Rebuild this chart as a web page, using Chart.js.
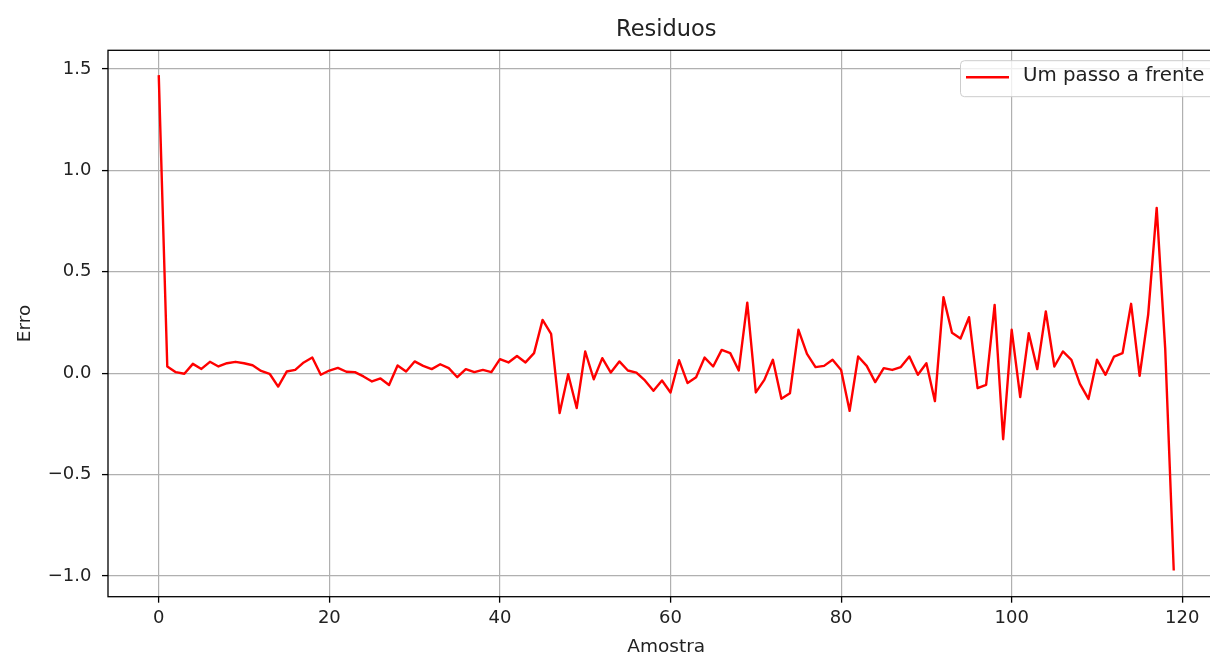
<!DOCTYPE html>
<html>
<head>
<meta charset="utf-8">
<script src="https://cdn.jsdelivr.net/npm/chart.js@4.4.1/dist/chart.umd.min.js"></script>
<style>
  html, body { margin: 0; padding: 0; background: #ffffff; overflow: hidden; width: 1210px; height: 658px; }
  #wrap { position: relative; width: 1240px; height: 658px; }
  canvas { display: block; }
</style>
</head>
<body>
<div id="wrap"><canvas id="chart" width="1240" height="658"></canvas></div>
<script>
// ---------- data ----------
const chartTitle = 'Residuos';
const seriesLabel = 'Um passo a frente';
const xAxisTitle = 'Amostra';
const yAxisTitle = 'Erro';

const residuals = [
  1.47, 0.033, 0.005, -0.003, 0.046, 0.021, 0.056, 0.033, 0.049, 0.056,
  0.049, 0.039, 0.011, -0.003, -0.066, 0.008, 0.016, 0.053, 0.077, -0.008,
  0.013, 0.026, 0.007, 0.005, -0.016, -0.041, -0.026, -0.058, 0.038, 0.008,
  0.058, 0.036, 0.020, 0.044, 0.025, -0.020, 0.020, 0.005, 0.016, 0.005,
  0.069, 0.053, 0.085, 0.053, 0.099, 0.263, 0.194, -0.197, -0.005, -0.172,
  0.107, -0.030, 0.074, 0.003, 0.058, 0.013, 0.003, -0.036, -0.087, -0.036,
  -0.095, 0.064, -0.049, -0.020, 0.077, 0.033, 0.115, 0.099, 0.013, 0.348,
  -0.095, -0.033, 0.066, -0.126, -0.099, 0.214, 0.095, 0.030, 0.036, 0.066,
  0.016, -0.186, 0.082, 0.036, -0.044, 0.025, 0.016, 0.030, 0.082, -0.008,
  0.049, -0.138, 0.375, 0.199, 0.171, 0.276, -0.074, -0.058, 0.337, -0.326,
  0.214, -0.118, 0.197, 0.020, 0.304, 0.033, 0.107, 0.066, -0.053, -0.127,
  0.066, -0.008, 0.082, 0.099, 0.342, -0.013, 0.288, 0.815, 0.12, -0.973
];

const xTicks = [0, 20, 40, 60, 80, 100, 120];
const xTickLabels = ['0', '20', '40', '60', '80', '100', '120'];
const yTicks = [-1.0, -0.5, 0.0, 0.5, 1.0, 1.5];
const yTickLabels = ['\u22121.0', '\u22120.5', '0.0', '0.5', '1.0', '1.5'];
const xLimits = [-5.95, 124.95];
const yLimits = [-1.1025, 1.5925];

// ---------- styling ----------
const FONT = '"DejaVu Sans", "Liberation Sans", sans-serif';
const TEXT = '#222222';
const GRID = '#b0b0b0';
const LINE = '#ff0000';

const framePlugin = {
  id: 'frameAndLegend',
  afterDatasetsDraw(chart) {
    const { ctx, chartArea: a } = chart;
    const ds = chart.data.datasets[0];
    ctx.save();
    // legend box (matplotlib style, upper right inside the axes)
    const boxLeft = a.right - 264;
    const boxTop = a.top + 10.4;
    const boxW = 256, boxH = 36, r = 4;
    ctx.beginPath();
    ctx.moveTo(boxLeft + r, boxTop);
    ctx.lineTo(boxLeft + boxW - r, boxTop);
    ctx.arcTo(boxLeft + boxW, boxTop, boxLeft + boxW, boxTop + r, r);
    ctx.lineTo(boxLeft + boxW, boxTop + boxH - r);
    ctx.arcTo(boxLeft + boxW, boxTop + boxH, boxLeft + boxW - r, boxTop + boxH, r);
    ctx.lineTo(boxLeft + r, boxTop + boxH);
    ctx.arcTo(boxLeft, boxTop + boxH, boxLeft, boxTop + boxH - r, r);
    ctx.lineTo(boxLeft, boxTop + r);
    ctx.arcTo(boxLeft, boxTop, boxLeft + r, boxTop, r);
    ctx.closePath();
    ctx.fillStyle = 'rgba(255,255,255,0.8)';
    ctx.fill();
    ctx.strokeStyle = '#cccccc';
    ctx.lineWidth = 1;
    ctx.stroke();
    const midY = boxTop + 16.6;
    ctx.beginPath();
    ctx.moveTo(boxLeft + 5.5, midY);
    ctx.lineTo(boxLeft + 48.5, midY);
    ctx.strokeStyle = ds.borderColor;
    ctx.lineWidth = ds.borderWidth;
    ctx.stroke();
    ctx.fillStyle = TEXT;
    ctx.font = '19.8px ' + FONT;
    ctx.textBaseline = 'middle';
    ctx.textAlign = 'left';
    ctx.fillText(ds.label, boxLeft + 62.5, midY - 1);
    // axes spines (full box; right side lies beyond the visible window like the reference)
    ctx.strokeStyle = '#000000';
    ctx.lineWidth = 1.3;
    ctx.strokeRect(a.left, a.top, a.right - a.left, a.bottom - a.top);
    ctx.restore();
  }
};

new Chart(document.getElementById('chart').getContext('2d'), {
  type: 'line',
  data: {
    datasets: [{
      label: seriesLabel,
      data: residuals.map((v, i) => ({ x: i, y: v })),
      borderColor: LINE,
      backgroundColor: LINE,
      borderWidth: 2.4,
      pointRadius: 0,
      pointHoverRadius: 0,
      tension: 0,
      fill: false,
      borderJoinStyle: 'round',
      borderCapStyle: 'butt'
    }]
  },
  options: {
    responsive: false,
    animation: false,
    devicePixelRatio: 1,
    events: [],
    layout: { padding: { left: 0, right: 15.5, top: 0, bottom: 0 } },
    plugins: {
      legend: { display: false },
      tooltip: { enabled: false },
      title: {
        display: true,
        text: chartTitle,
        fullSize: false,
        color: TEXT,
        font: { family: FONT, size: 22.5, weight: 'normal', lineHeight: 1.2 },
        padding: { top: 17, bottom: 6.3 }
      }
    },
    scales: {
      x: {
        type: 'linear',
        min: xLimits[0],
        max: xLimits[1],
        afterBuildTicks: (s) => { s.ticks = xTicks.map(v => ({ value: v })); },
        afterFit: (s) => { s.height = 61.3; },
        ticks: {
          callback: (v) => xTickLabels[xTicks.indexOf(v)],
          color: TEXT,
          font: { family: FONT, size: 18, lineHeight: 1.2 },
          padding: 5,
          maxRotation: 0,
          autoSkip: false
        },
        grid: { color: GRID, lineWidth: 1.2, drawTicks: true, tickLength: 6, tickColor: '#000000', tickWidth: 1.3 },
        border: { display: false },
        title: {
          display: true,
          text: xAxisTitle,
          color: TEXT,
          font: { family: FONT, size: 18.5, lineHeight: 1.2 },
          padding: { top: 0, bottom: 0 }
        }
      },
      y: {
        type: 'linear',
        min: yLimits[0],
        max: yLimits[1],
        afterBuildTicks: (s) => { s.ticks = yTicks.map(v => ({ value: v })); },
        afterFit: (s) => { s.width = 108; },
        ticks: {
          callback: (v) => yTickLabels[yTicks.indexOf(v)],
          color: TEXT,
          font: { family: FONT, size: 18, lineHeight: 1.2 },
          padding: 10.5,
          autoSkip: false
        },
        grid: { color: GRID, lineWidth: 1.2, drawTicks: true, tickLength: 6, tickColor: '#000000', tickWidth: 1.3 },
        border: { display: false },
        title: {
          display: true,
          text: yAxisTitle,
          color: TEXT,
          font: { family: FONT, size: 18.5, lineHeight: 1.2 },
          padding: { top: 14.2, bottom: 0 }
        }
      }
    }
  },
  plugins: [framePlugin]
});
</script>
</body>
</html>
